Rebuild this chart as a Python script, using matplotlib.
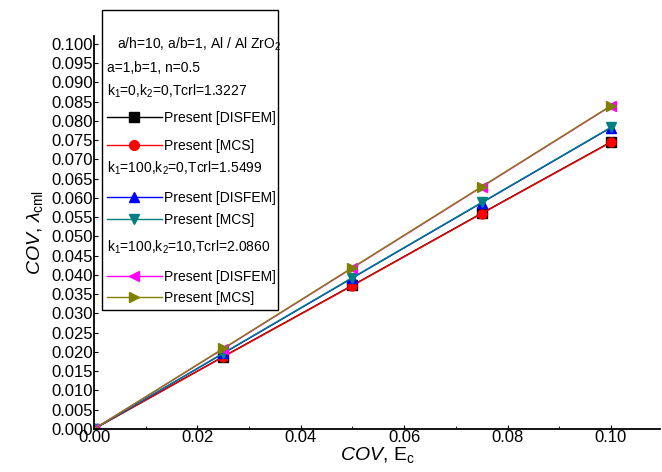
import matplotlib
matplotlib.use("Agg")
import matplotlib.pyplot as plt
from matplotlib.lines import Line2D
from matplotlib.patches import Rectangle
from matplotlib.ticker import MultipleLocator, FormatStrFormatter

plt.rcParams['font.family'] = ['Liberation Sans', 'DejaVu Sans']
plt.rcParams['mathtext.fontset'] = 'custom'
plt.rcParams['mathtext.rm'] = 'Liberation Sans'
plt.rcParams['mathtext.it'] = 'Liberation Sans:italic'
plt.rcParams['mathtext.bf'] = 'Liberation Sans:bold'

# ---- data ----
cov_e = [0.0, 0.025, 0.05, 0.075, 0.10]
case1_disfem = [0.0, 0.0188, 0.0373, 0.0560, 0.0745]
case1_mcs    = [0.0, 0.0187, 0.0372, 0.0559, 0.0744]
case2_disfem = [0.0, 0.0196, 0.0392, 0.0587, 0.0782]
case2_mcs    = [0.0, 0.0197, 0.0393, 0.0588, 0.0783]
case3_disfem = [0.0, 0.0208, 0.0418, 0.0628, 0.0838]
case3_mcs    = [0.0, 0.0209, 0.0419, 0.0629, 0.0839]

series_labels = ["Present [DISFEM]", "Present [MCS]"] * 3
series_colors = ["black", "red", "blue", "#008080", "magenta", "#808000"]
series_markers = ["s", "o", "^", "v", "<", ">"]
series_values = [case1_disfem, case1_mcs, case2_disfem, case2_mcs, case3_disfem, case3_mcs]

header_texts = [r"a/h=10, a/b=1, Al / Al ZrO$_2$", "a=1,b=1, n=0.5"]
group_texts = [r"k$_1$=0,k$_2$=0,Tcrl=1.3227",
               r"k$_1$=100,k$_2$=0,Tcrl=1.5499",
               r"k$_1$=100,k$_2$=10,Tcrl=2.0860"]

W, H = 662, 472
fig = plt.figure(figsize=(W / 100, H / 100), dpi=100)
ax = fig.add_axes([94 / W, 1 - 429 / H, (660 - 94) / W, (429 - 36) / H])

for vals, c, m in zip(series_values, series_colors, series_markers):
    ax.plot(cov_e, vals, color=c, marker=m, markersize=6.5, linewidth=1.0,
            markeredgecolor=c)

ax.set_xlim(0, 0.1095)
ax.set_ylim(0, 0.102)
ax.xaxis.set_major_locator(MultipleLocator(0.02))
ax.xaxis.set_minor_locator(MultipleLocator(0.01))
ax.yaxis.set_major_locator(MultipleLocator(0.005))
ax.xaxis.set_major_formatter(FormatStrFormatter('%.2f'))
ax.yaxis.set_major_formatter(FormatStrFormatter('%.3f'))
ax.spines['top'].set_visible(False)
ax.spines['right'].set_visible(False)
ax.spines['left'].set_linewidth(1.3)
ax.spines['bottom'].set_linewidth(1.3)
ax.tick_params(axis='both', which='both', direction='in', labelsize=12, pad=1)
ax.tick_params(axis='both', which='major', length=3)
ax.tick_params(axis='both', which='minor', length=2)

ax.set_xlabel(r"$\it{COV}$, E$_\mathrm{c}$", fontsize=14, labelpad=0)
ax.set_ylabel(r"$\it{COV}$, $\lambda_\mathrm{cml}$", fontsize=14, labelpad=4)

# ---- legend box (drawn manually, figure pixel coordinates) ----
def fx(px):
    return px / W

def fy(py):
    return 1 - py / H

fig.add_artist(Rectangle((fx(102), fy(310)), fx(278) - fx(102), fy(10) - fy(310),
                         transform=fig.transFigure, fill=False, edgecolor='black',
                         linewidth=1.0))

fig.text(fx(117), fy(44), header_texts[0], fontsize=10, va='center', ha='left')
fig.text(fx(107), fy(68), header_texts[1], fontsize=10, va='center', ha='left')

group_y = [91, 168, 247]
row_y = [117, 145, 197, 219, 276, 297]
for t, y in zip(group_texts, group_y):
    fig.text(fx(107), fy(y), t, fontsize=10, va='center', ha='left')

for i, (lab, c, m) in enumerate(zip(series_labels, series_colors, series_markers)):
    y = row_y[i]
    fig.add_artist(Line2D([fx(107), fx(162)], [fy(y), fy(y)], color=c, linewidth=1.0,
                          transform=fig.transFigure))
    fig.add_artist(Line2D([fx(134)], [fy(y)], color=c, marker=m, markersize=7,
                          markeredgecolor=c, transform=fig.transFigure))
    fig.text(fx(164), fy(y + 1), lab, fontsize=10, va='center', ha='left')

fig.savefig("out.png", dpi=100)
